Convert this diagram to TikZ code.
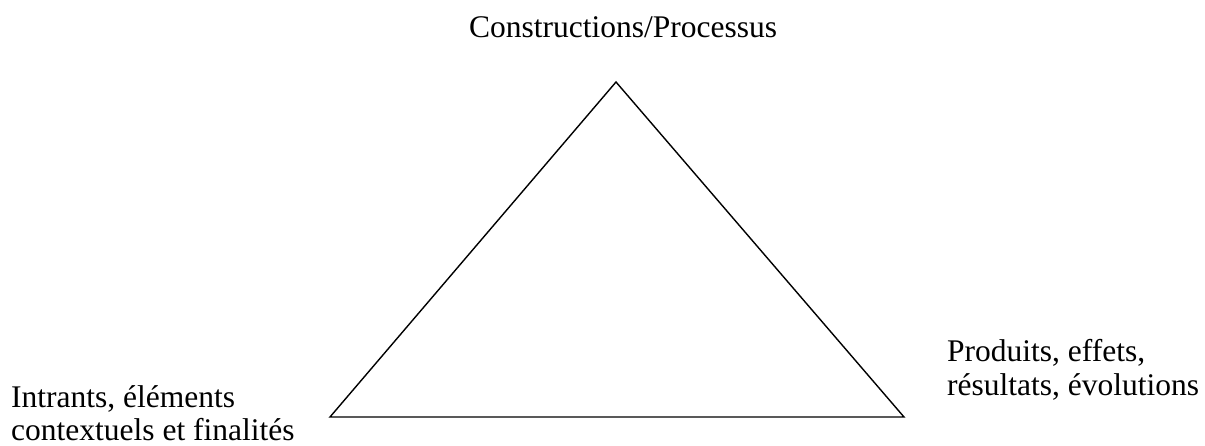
\documentclass[tikz,border=0pt]{standalone}
\usepackage{fontspec}
\setmainfont{Liberation Serif}
\usepackage{tikz}
\usetikzlibrary{positioning}

\tikzset{lbl/.style={inner sep=0pt,font=\fontsize{31.5}{33}\selectfont}}

\begin{document}
\begin{tikzpicture}[x=1pt,y=-1pt]
\useasboundingbox (0,0) rectangle (1205,446);
\coordinate (apex) at (616,82);
\coordinate (lft) at (330,417);
\coordinate (rgt) at (904,417);
\draw[line width=1.4pt] (apex)--(rgt)--(lft)--cycle;
\node[lbl,anchor=base] (proc) at (623,38) {Constructions/Processus};
\node[lbl,align=left,anchor=base west] (intr) at (11,440) {Intrants, éléments\\contextuels et finalités};
\node[lbl,align=left,anchor=base west] (prod) at (947,395) {Produits, effets,\\résultats, évolutions};
\end{tikzpicture}
\end{document}
